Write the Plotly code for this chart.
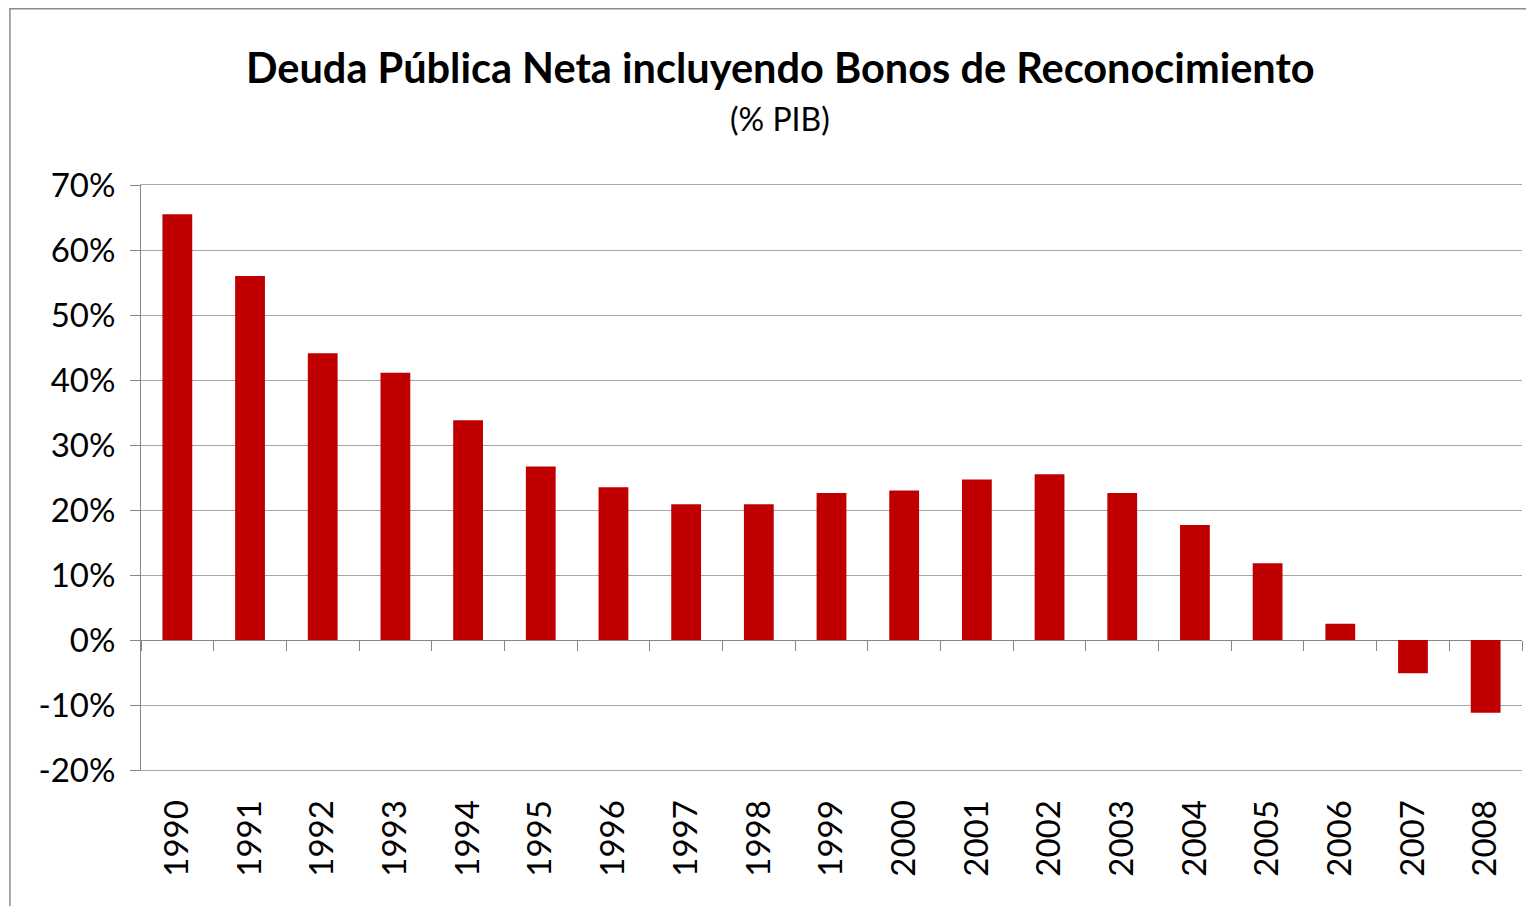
import plotly.graph_objects as go

# Deuda publica neta (% PIB)
years = [str(y) for y in range(1990, 2009)]
deuda = [65.5, 56.0, 44.1, 41.1, 33.8, 26.7, 23.5, 20.9, 20.9, 22.6,
         23.0, 24.7, 25.5, 22.6, 17.7, 11.8, 2.5, -5.1, -11.2]

y_ticks = [-20, -10, 0, 10, 20, 30, 40, 50, 60, 70]
y_labels = ["-20%", "-10%", "0%", "10%", "20%", "30%", "40%", "50%", "60%", "70%"]

title_text = "Deuda Pública Neta incluyendo Bonos de Reconocimiento"
subtitle_text = "(% PIB)"

FONT = "Lato"
GRID = "#a6a6a6"
AXIS = "#868686"

fig = go.Figure()

fig.add_trace(go.Bar(
    x=years, y=deuda,
    marker=dict(color="#C00000", line=dict(width=0)),
    showlegend=False,
))

# invisible trace so the zero-line tick axis gets the categories
fig.add_trace(go.Scatter(
    x=years, y=[0] * len(years),
    xaxis="x2", mode="markers", marker=dict(opacity=0),
    showlegend=False, hoverinfo="skip",
))

x_range = [-0.5, len(years) - 0.5]

fig.update_layout(
    width=1534, height=906,
    margin=dict(l=133, r=20, t=177, b=144),
    paper_bgcolor="white", plot_bgcolor="white",
    bargap=0.59,
    font=dict(family=FONT, color="black", size=33),
    xaxis=dict(
        type="category", range=x_range, tickangle=-90,
        showgrid=False, showline=True, mirror=True,
        linecolor=GRID, linewidth=1,
        ticks="", tickfont=dict(size=33), ticklabelstandoff=16,
    ),
    xaxis2=dict(
        type="category", overlaying="x", matches="x", anchor="free",
        position=2 / 9, showticklabels=False, showgrid=False,
        showline=False, ticks="outside", tickson="boundaries",
        ticklen=10, tickcolor=AXIS, tickwidth=1,
    ),
    yaxis=dict(
        range=[-20, 70], tickvals=y_ticks, ticktext=y_labels,
        showgrid=True, gridcolor=GRID, gridwidth=1,
        showline=True, linecolor=AXIS, linewidth=1,
        ticks="outside", ticklen=10, tickcolor=AXIS,
        zeroline=True, zerolinecolor=AXIS, zerolinewidth=1,
        tickfont=dict(size=33), ticklabelstandoff=8,
    ),
    annotations=[
        dict(text="<b>" + title_text + "</b>", xref="paper", yref="paper",
             x=0.463, y=1.2017, showarrow=False, yanchor="middle",
             font=dict(size=41.5, family=FONT)),
        dict(text=subtitle_text, xref="paper", yref="paper",
             x=0.463, y=1.1145, showarrow=False, yanchor="middle",
             font=dict(size=32, family=FONT)),
    ],
    shapes=[
        dict(type="rect", xref="paper", yref="paper",
             x0=-0.0949, x1=1.1, y0=-0.5, y1=1.3013,
             line=dict(color="#8c8c8c", width=1.5), layer="below"),
    ],
)

fig.write_html("out.html")
